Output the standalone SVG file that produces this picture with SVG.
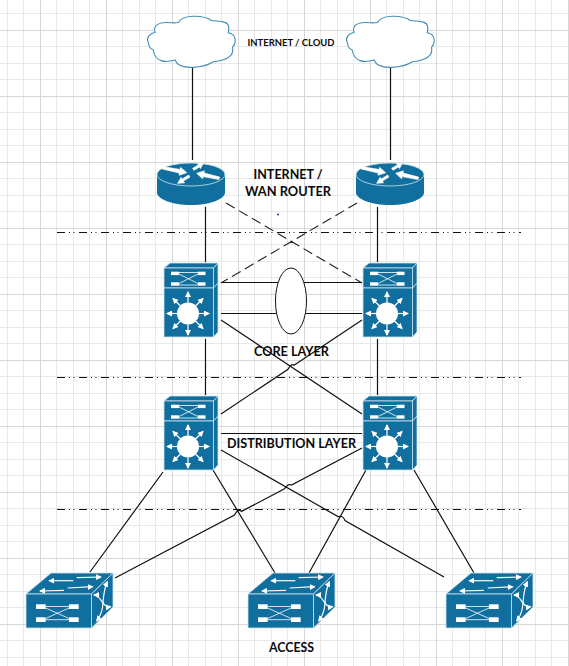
<svg xmlns="http://www.w3.org/2000/svg" xmlns:xlink="http://www.w3.org/1999/xlink" width="569" height="666" viewBox="0 0 569 666">
<style>
.lbl{font-family:"Lato","Open Sans","Liberation Sans",sans-serif;font-weight:700;fill:#0a0a0a;text-anchor:middle}
.c{fill:none;stroke:#111;stroke-width:1.2}
.d{fill:none;stroke:#222;stroke-width:1.1;stroke-dasharray:10 5}
.sep{fill:none;stroke:#111;stroke-width:1;stroke-dasharray:8 4 1 3.5 1 4.5}
.b{fill:#106f9e;stroke:#cfe3ef;stroke-width:.8;stroke-linejoin:round}
.w{fill:none;stroke:#fff;stroke-width:.8}
.ar{fill:none;stroke:#fff;stroke-width:1.2;marker-end:url(#wh)}
.ab{fill:none;stroke:#fff;stroke-width:1.2;marker-end:url(#wh);marker-start:url(#whs)}
</style>
<defs>
<pattern id="grid" patternUnits="userSpaceOnUse" x="40" y="30" width="66" height="66">
<path d="M16.5 0V66M33.5 0V66M49.5 0V66M0 16.5H66M0 33.5H66M0 49.5H66" fill="none" stroke="#e8e8e8" stroke-width="1"/>
<path d="M.5 0V66M0 .5H66" fill="none" stroke="#d6d6d6" stroke-width="1"/>
</pattern>
<marker id="wh" markerUnits="userSpaceOnUse" markerWidth="7" markerHeight="6" refX="5" refY="3" orient="auto"><path d="M0 0L6 3L0 6Z" fill="#fff"/></marker>
<marker id="whs" markerUnits="userSpaceOnUse" markerWidth="7" markerHeight="6" refX="5" refY="3" orient="auto-start-reverse"><path d="M0 0L6 3L0 6Z" fill="#fff"/></marker>
<symbol id="cloud" overflow="visible" width="1" height="1">
<path d="M148 41.500C146 38 150 33 155 32.500C153 26 158 22 168 22.500C172 23 175 23 178.500 22.500C182 15 202 14 212 20.700C218 21 228 21 228.500 26C229 28 229 30 228.300 32.700C236 34 237 42 232.500 47.300C234 54 230 60 213.500 61.700C205 67 180 72 175 60C165 63 155 62 153.300 50C150 49 148.500 45 148 41.500Z" fill="#fff" stroke="#3f8db5" stroke-width="1.1"/>
</symbol>
<symbol id="router" overflow="visible" width="1" height="1">
<path d="M0 11.500V29.500C0 36 15 42 34 42C53 42 68 36 68 29.500V11.500Z" fill="#106f9e"/>
<ellipse cx="34" cy="11.500" rx="34" ry="11.500" fill="#106f9e" stroke="#cfe3ef" stroke-width=".8"/>
<g fill="#fff" stroke="#fff" stroke-width=".7" stroke-linejoin="round">
<path d="M5.100 5.900L22.400 10.100L22 12.200L29.700 9.700L23.600 4.400L23.200 6.500L5.500 3.500Z"/>
<path d="M62.600 14.100L46.900 10L47.400 7.900L39.700 10.300L45.600 15.700L46.100 13.600L62 16.500Z"/>
<path d="M36.900 7.300L42.600 3.900L43.500 5.500L46.300 .3L40.500 .3L41.400 1.900L35.700 5.300Z"/>
<path d="M32.900 14L26.400 18.100L27.500 19.800L20.700 20.300L24.100 14.400L25.200 16.100L31.700 12Z"/>
</g>
</symbol>
<symbol id="mls" overflow="visible" width="1" height="1">
<path class="b" d="M0 5L6 0H54L49.500 5Z"/>
<path class="b" d="M49.500 5L54 0V69L49.500 74Z"/>
<rect class="b" x="0" y="5" width="49.500" height="20"/>
<rect class="b" x="0" y="25" width="49.500" height="49"/>
<path d="M49.500 25L54 20" stroke="#cfe3ef" fill="none"/>
<g fill="#fff"><rect x="7" y="8.700" width="8" height="3.400"/><rect x="34" y="8.700" width="7.500" height="3.400"/><rect x="7" y="19.300" width="8" height="3.400"/><rect x="34" y="19.300" width="7.500" height="3.400"/></g>
<path class="w" d="M15 9.500H34M15 22H34M15 11L34 20.500M15 20.500L34 11"/>
<path class="ar" d="M24 41V29"/><path class="ar" d="M24 60V72"/><path class="ar" d="M15 50.500H3"/><path class="ar" d="M33 50.500H45"/>
<path class="ar" d="M17.500 44L9 35.500"/><path class="ar" d="M30.500 44L39 35.500"/><path class="ar" d="M17.500 57L9 65.500"/><path class="ar" d="M30.500 57L39 65.500"/>
<circle cx="24" cy="50.500" r="11" fill="#fff"/>
</symbol>
<symbol id="sw" overflow="visible" width="1" height="1">
<path class="b" d="M0 21L25 0H87L65.500 21Z"/>
<path class="b" d="M65.500 21L87 0V34L65.500 55Z"/>
<rect class="b" x="0" y="21" width="65.500" height="34"/>
<g fill="#fff"><rect x="10" y="31.300" width="9.700" height="4.700"/><rect x="43" y="31.300" width="9.700" height="4.700"/><rect x="10" y="44.300" width="9.700" height="4.700"/><rect x="43" y="44.300" width="9.700" height="4.700"/></g>
<path class="w" d="M19.700 33.500H43M19.700 46.700H43M19.700 35L43 45.500M19.700 45.500L43 35"/>
<path class="ar" d="M47.300 7.700H23.300"/><path class="ar" d="M50.700 4.700L75 4"/><path class="ar" d="M38 17.300L14 18"/><path class="ar" d="M41.700 15L66.700 13.700"/>
<path class="ab" d="M81.300 8.700C74 25.300 80.700 35.300 70.700 48"/>
<path class="ab" d="M68 22C75.700 22 75.700 35.300 84.700 33.700"/>
</symbol>
</defs>
<rect width="569" height="666" fill="#fff"/>
<rect width="569" height="666" fill="url(#grid)"/>
<g id="connectors">
<path class="c" d="M192.500 67V160M390.500 67V160M205.500 207V262M377.500 207V262M205.500 339V395M377.500 339V395"/>
<path class="d" d="M226 203L362 283M357 203L221 283"/>
<path class="c" d="M221 282.500H362M221 313.500H362M221 433.500H362"/>
<path class="c" d="M221 320L362 414"/>
<path class="c" d="M362 320L294 365.300Q291 363 288 369.300L221 414"/>
<path class="c" d="M362 448L291.500 485.100Q288 483 284.500 488.800L241.500 511.400Q238 508 234.500 515.100L115 578"/>
<path class="c" d="M221 450L338 516.600Q343 515 345 520.600L444 577"/>
<path class="c" d="M163 472L90 572M213 470L275 573M366 470L309 573M414 470L474 573"/>
</g>
<g id="separators">
<path class="sep" d="M57 232.500H521M57 377.500H521M57 509.500H521"/>
</g>
<g id="cloud-left"><use xlink:href="#cloud" href="#cloud"/></g>
<g id="cloud-right"><use xlink:href="#cloud" href="#cloud" x="199"/></g>
<g id="router-left"><use href="#router" x="157" y="163"/></g>
<g id="router-right"><use href="#router" x="356" y="163"/></g>
<g id="core-left"><use href="#mls" x="164" y="263"/></g>
<g id="core-right"><use href="#mls" x="363" y="263"/></g>
<g id="link-ellipse"><ellipse cx="291" cy="301" rx="15.500" ry="33" fill="#fff" stroke="#111" stroke-width="1"/></g>
<g id="dist-left"><use href="#mls" x="164" y="396"/></g>
<g id="dist-right"><use href="#mls" x="363" y="396"/></g>
<g id="access-1"><use href="#sw" x="26" y="573"/></g>
<g id="access-2"><use href="#sw" x="248" y="573"/></g>
<g id="access-3"><use href="#sw" x="446" y="573"/></g>
<circle cx="278" cy="214.500" r="1" fill="#2222dd"/>
<g id="labels">
<text class="lbl" x="291" y="45.500" font-size="10" textLength="87" lengthAdjust="spacingAndGlyphs">INTERNET / CLOUD</text>
<text class="lbl" x="288" y="179" font-size="13.500" textLength="69" lengthAdjust="spacingAndGlyphs">INTERNET /</text>
<text class="lbl" x="288" y="196" font-size="13.500" textLength="86" lengthAdjust="spacingAndGlyphs">WAN ROUTER</text>
<text class="lbl" x="291.500" y="355.500" font-size="13" textLength="75" lengthAdjust="spacingAndGlyphs">CORE LAYER</text>
<text class="lbl" x="291.500" y="447.500" font-size="13" textLength="129" lengthAdjust="spacingAndGlyphs">DISTRIBUTION LAYER</text>
<text class="lbl" x="291.500" y="652" font-size="12.500" textLength="45" lengthAdjust="spacingAndGlyphs">ACCESS</text>
</g>
</svg>
